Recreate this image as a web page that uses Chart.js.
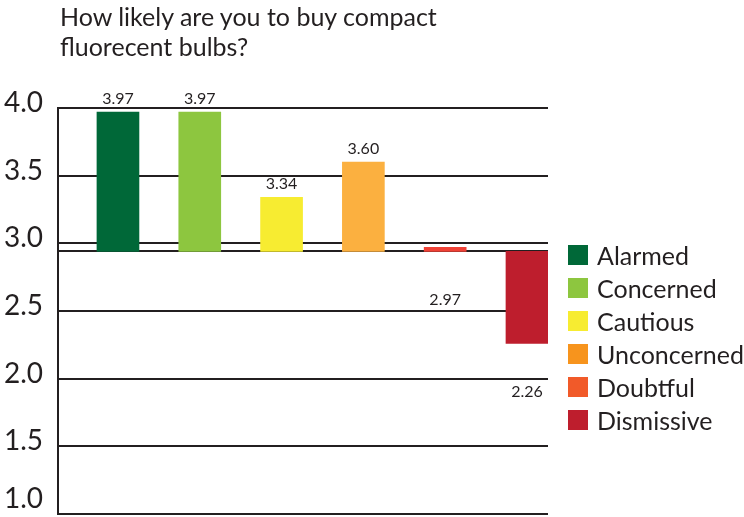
<!DOCTYPE html>
<html>
<head>
<meta charset="utf-8">
<script src="https://cdn.jsdelivr.net/npm/chart.js@4.4.1/dist/chart.umd.min.js"></script>
<style>
  body { margin: 0; background: #fff; font-family: Lato, "Open Sans", sans-serif; color: #231f20; }
  #wrap { position: relative; width: 744px; height: 517px; }
  #title { position: absolute; left: 60px; top: 1px; font-size: 25px; line-height: 30px; margin: 0; font-weight: normal; }
  #legend { position: absolute; left: 568px; top: 245px; list-style: none; margin: 0; padding: 0; }
  #legend li { height: 33px; display: flex; align-items: flex-start; font-size: 25px; line-height: 20px; white-space: nowrap; }
  #legend span.box { width: 20px; height: 20px; margin-right: 9px; flex: none; }
  canvas { position: absolute; left: 0; top: 0; }
</style>
</head>
<body>
<div id="wrap">
  <canvas id="chart" width="744" height="517"></canvas>
  <h1 id="title">How likely are you to buy compact<br>fluorecent bulbs?</h1>
  <ul id="legend"></ul>
</div>
<script>
const categories = ['Alarmed', 'Concerned', 'Cautious', 'Unconcerned', 'Doubtful', 'Dismissive'];
const scores = [3.97, 3.97, 3.34, 3.60, 2.97, 2.26];
const barColors = ['#006838', '#8dc63f', '#f7ec31', '#fbb040', '#ef4136', '#be1e2d'];
const swatchColors = ['#006838', '#8dc63f', '#f7ec31', '#f7941d', '#f15a29', '#be1e2d'];
const yTicks = [1.0, 1.5, 2.0, 2.5, 3.0, 3.5, 4.0];
const baseline = 2.94;   // bars grow up or down from this line

// legend
const legend = document.getElementById('legend');
categories.forEach(function (c, i) {
  const li = document.createElement('li');
  const box = document.createElement('span');
  box.className = 'box';
  box.style.background = swatchColors[i];
  li.appendChild(box);
  li.appendChild(document.createTextNode(c));
  legend.appendChild(li);
});

// numbers over / under the bars
const valueLabels = {
  id: 'valueLabels',
  afterDatasetsDraw(chart) {
    const ctx = chart.ctx;
    ctx.save();
    ctx.font = '16px Lato';
    ctx.fillStyle = '#231f20';
    ctx.textAlign = 'center';
    chart.data.datasets.forEach(function (ds, i) {
      const bar = chart.getDatasetMeta(i).data[0];
      const v = scores[i];
      if (v >= 3) {
        ctx.textBaseline = 'bottom';
        ctx.fillText(v.toFixed(2), bar.x, Math.min(bar.y, bar.base) - 5);
      } else {
        ctx.textBaseline = 'top';
        ctx.fillText(v.toFixed(2), bar.x, Math.max(bar.y, bar.base) + 40);
      }
    });
    ctx.restore();
  }
};

const datasets = categories.map(function (c, i) {
  return {
    label: c,
    data: [{ x: i, y: [baseline, scores[i]] }],
    backgroundColor: barColors[i],
    grouped: false,
    barThickness: 42
  };
});

new Chart(document.getElementById('chart'), {
  type: 'bar',
  data: { datasets: datasets },
  plugins: [valueLabels],
  options: {
    responsive: false,
    animation: false,
    layout: { padding: { top: 108, right: 196, bottom: 3, left: 0 } },
    plugins: { legend: { display: false }, tooltip: { enabled: false } },
    scales: {
      x: { type: 'linear', min: -0.733, max: 5.257, offset: false, display: false },
      y: {
        min: 1, max: 4,
        afterBuildTicks: function (s) {
          s.ticks = yTicks.concat([baseline]).map(function (v) { return { value: v }; });
        },
        afterFit: function (s) {
          s.width = 58;
          s.paddingTop = 0;
          s.paddingBottom = 0;
        },
        ticks: {
          font: function (ctx) {
            // bottom label is lifted (two lines, short line height) so it stays on the canvas
            return { family: 'Lato', size: 28, lineHeight: ctx.tick && ctx.tick.value === 1 ? 0.7 : 1.2 };
          },
          color: '#231f20',
          padding: 15,
          labelOffset: -5,
          callback: function (v) {
            if (v === 1) return ['1.0', ''];
            return yTicks.includes(v) ? v.toFixed(1) : '';
          }
        },
        grid: { color: '#231f20', lineWidth: 2, drawTicks: false },
        border: { display: true, color: '#231f20', width: 2 }
      }
    }
  }
});
</script>
</body>
</html>
